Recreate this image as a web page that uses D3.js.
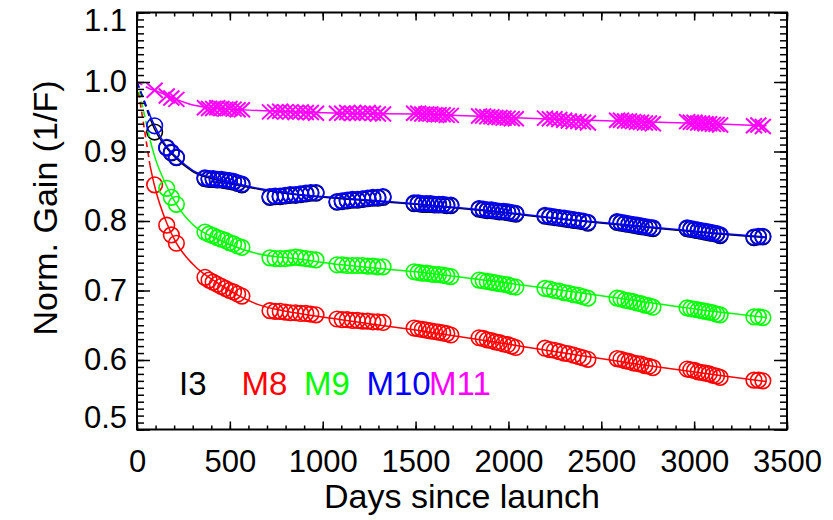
<!DOCTYPE html>
<html lang="en">
<head>
<meta charset="UTF-8">
<title>Normalized gain vs days since launch</title>
<script src="https://d3js.org/d3.v7.min.js"></script>
<style>
    body { margin: 0; background: #fff; }
    svg text { font-family: "Liberation Sans", Arial, sans-serif; }
</style>
</head>
<body>
<svg width="833" height="520"></svg>
<script>

// observation days (shared by all bands)
const days = [95, 160, 185, 212,
    366, 388, 410, 432, 454, 476, 498, 520, 542, 565,
    716, 744, 771, 799, 826, 854, 881, 909, 936, 964,
    1077, 1105, 1132, 1160, 1187, 1215, 1242, 1270, 1297, 1325,
    1492, 1514, 1536, 1558, 1580, 1602, 1624, 1646, 1668, 1690,
    1842, 1864, 1886, 1908, 1930, 1952, 1974, 1996, 2018, 2040,
    2197, 2223, 2248, 2274, 2300, 2325, 2351, 2377, 2402, 2428,
    2585, 2606, 2628, 2649, 2671, 2692, 2714, 2735, 2757, 2778,
    2962, 2982, 3002, 3022, 3042, 3061, 3081, 3101, 3121, 3140,
    3322, 3346, 3370];

const m8 = [0.852, 0.794, 0.780, 0.768,
    0.719, 0.715, 0.712, 0.709, 0.706, 0.703, 0.700, 0.698, 0.695, 0.692,
    0.671, 0.670, 0.670, 0.669, 0.668, 0.668, 0.667, 0.667, 0.666, 0.665,
    0.659, 0.658, 0.658, 0.657, 0.657, 0.656, 0.656, 0.655, 0.655, 0.654,
    0.646, 0.645, 0.644, 0.643, 0.642, 0.641, 0.640, 0.639, 0.638, 0.636,
    0.632, 0.631, 0.629, 0.628, 0.626, 0.625, 0.623, 0.622, 0.620, 0.618,
    0.617, 0.615, 0.614, 0.612, 0.610, 0.609, 0.607, 0.605, 0.603, 0.601,
    0.602, 0.601, 0.599, 0.598, 0.596, 0.595, 0.594, 0.592, 0.591, 0.589,
    0.587, 0.586, 0.585, 0.583, 0.582, 0.581, 0.580, 0.578, 0.577, 0.575,
    0.571, 0.571, 0.570];

const m9 = [null, 0.847, 0.834, 0.824,
    0.784, 0.781, 0.779, 0.776, 0.774, 0.772, 0.769, 0.767, 0.764, 0.762,
    0.747, 0.746, 0.746, 0.746, 0.747, 0.748, 0.747, 0.746, 0.745, 0.744,
    0.737, 0.737, 0.736, 0.736, 0.736, 0.736, 0.735, 0.735, 0.734, 0.734,
    0.727, 0.726, 0.725, 0.725, 0.724, 0.723, 0.723, 0.722, 0.721, 0.720,
    0.715, 0.714, 0.713, 0.712, 0.711, 0.710, 0.709, 0.708, 0.706, 0.705,
    0.703, 0.702, 0.700, 0.699, 0.697, 0.696, 0.694, 0.693, 0.691, 0.689,
    0.689, 0.688, 0.686, 0.685, 0.684, 0.682, 0.681, 0.679, 0.678, 0.676,
    0.675, 0.674, 0.673, 0.672, 0.671, 0.670, 0.669, 0.668, 0.666, 0.665,
    0.662, 0.662, 0.661];

const m10 = [0.937, 0.906, 0.899, 0.892,
    0.862, 0.861, 0.861, 0.860, 0.860, 0.859, 0.858, 0.857, 0.855, 0.853,
    0.835, 0.836, 0.836, 0.837, 0.838, 0.838, 0.839, 0.840, 0.841, 0.841,
    0.828, 0.829, 0.830, 0.831, 0.831, 0.832, 0.833, 0.834, 0.834, 0.835,
    0.826, 0.826, 0.825, 0.825, 0.825, 0.824, 0.824, 0.824, 0.823, 0.823,
    0.818, 0.817, 0.816, 0.816, 0.815, 0.814, 0.814, 0.813, 0.812, 0.811,
    0.808, 0.807, 0.806, 0.805, 0.804, 0.803, 0.802, 0.801, 0.800, 0.798,
    0.799, 0.798, 0.797, 0.796, 0.795, 0.794, 0.793, 0.792, 0.791, 0.790,
    0.790, 0.789, 0.788, 0.787, 0.786, 0.785, 0.784, 0.783, 0.782, 0.780,
    0.777, 0.778, 0.778];

const i3 = [0.928, 0.905, 0.898, 0.891,
    0.861, 0.860, 0.860, 0.859, 0.859, 0.858, 0.857, 0.856, 0.854, 0.852,
    0.834, 0.835, 0.835, 0.836, 0.837, 0.837, 0.838, 0.839, 0.840, 0.840,
    0.827, 0.828, 0.829, 0.830, 0.830, 0.831, 0.832, 0.833, 0.833, 0.834,
    0.825, 0.825, 0.824, 0.824, 0.824, 0.823, 0.823, 0.823, 0.822, 0.822,
    0.817, 0.816, 0.815, 0.815, 0.814, 0.813, 0.813, 0.812, 0.811, 0.810,
    0.807, 0.806, 0.805, 0.804, 0.803, 0.802, 0.801, 0.800, 0.799, 0.797,
    0.798, 0.797, 0.796, 0.795, 0.794, 0.793, 0.792, 0.791, 0.790, 0.789,
    0.789, 0.788, 0.787, 0.786, 0.785, 0.784, 0.783, 0.782, 0.781, 0.779,
    0.776, 0.777, 0.777];

const m11 = [0.988, 0.980, 0.977, 0.975,
    0.963, 0.962, 0.962, 0.963, 0.962, 0.961, 0.962, 0.961, 0.960, 0.960,
    0.957, 0.957, 0.958, 0.957, 0.957, 0.956, 0.957, 0.956, 0.956, 0.955,
    0.955, 0.955, 0.956, 0.955, 0.955, 0.955, 0.956, 0.955, 0.954, 0.954,
    0.955, 0.955, 0.954, 0.954, 0.954, 0.953, 0.953, 0.953, 0.952, 0.952,
    0.951, 0.951, 0.950, 0.950, 0.949, 0.949, 0.948, 0.948, 0.947, 0.947,
    0.948, 0.947, 0.947, 0.946, 0.945, 0.944, 0.943, 0.943, 0.942, 0.941,
    0.945, 0.945, 0.944, 0.944, 0.943, 0.942, 0.942, 0.941, 0.941, 0.940,
    0.943, 0.942, 0.942, 0.941, 0.941, 0.940, 0.940, 0.939, 0.939, 0.938,
    0.937, 0.938, 0.936];

// fitted degradation curves, read at these days
const fitDays = [70, 95, 160, 212, 300, 450, 650, 850, 1100, 1500, 1900, 2300, 2700, 3100, 3390];
const fitM8  = [0.880, 0.850, 0.797, 0.768, 0.738, 0.708, 0.680, 0.668, 0.658, 0.643, 0.627, 0.610, 0.594, 0.579, 0.569];
const fitM9  = [0.917, 0.893, 0.850, 0.824, 0.795, 0.772, 0.753, 0.746, 0.737, 0.727, 0.714, 0.700, 0.685, 0.670, 0.661];
const fitM10 = [0.952, 0.937, 0.907, 0.892, 0.873, 0.860, 0.847, 0.839, 0.833, 0.825, 0.815, 0.803, 0.793, 0.783, 0.777];
const fitI3  = [0.948, 0.932, 0.905, 0.890, 0.871, 0.858, 0.846, 0.838, 0.832, 0.824, 0.814, 0.802, 0.792, 0.782, 0.776];
const fitM11 = [0.990, 0.988, 0.981, 0.975, 0.967, 0.962, 0.959, 0.957, 0.955, 0.954, 0.950, 0.946, 0.943, 0.940, 0.937];

const bandNames = ["I3", "M8", "M9", "M10", "M11"];
const bandColors = ["#000000", "#ff0000", "#00ff00", "#0000ff", "#ff00ff"];

const xTicks = [0, 500, 1000, 1500, 2000, 2500, 3000, 3500];
const yTicks = [0.5, 0.6, 0.7, 0.8, 0.9, 1.0, 1.1];

const svg = d3.select("svg");
const pLeft = 137, pRight = 787, pTop = 12.5, pBottom = 429.5;

const x = d3.scaleLinear().domain([0, 3500]).range([pLeft, pRight]);
const y = d3.scaleLinear().domain([0.5, 1.1]).range([pBottom, pTop]);

const series = [
    {name: "I3",  vals: i3,  fit: fitI3,  marker: "circle"},
    {name: "M8",  vals: m8,  fit: fitM8,  marker: "circle"},
    {name: "M9",  vals: m9,  fit: fitM9,  marker: "circle"},
    {name: "M10", vals: m10, fit: fitM10, marker: "circle"},
    {name: "M11", vals: m11, fit: fitM11, marker: "cross"}
];

const line = d3.line()
    .x(d => x(d[0]))
    .y(d => y(d[1]))
    .curve(d3.curveMonotoneX);

const plot = svg.append("g");

series.forEach(s => {
    const col = bandColors[bandNames.indexOf(s.name)];
    const g = plot.append("g");

    // dashed start from launch
    g.append("path")
        .attr("d", d3.line().x(d => x(d[0])).y(d => y(d[1]))([[0, 1.0], [fitDays[0], s.fit[0]]]))
        .attr("fill", "none")
        .attr("stroke", col)
        .attr("stroke-width", 1.6)
        .attr("stroke-dasharray", "6,4");

    g.append("path")
        .attr("d", line(fitDays.map((d, i) => [d, s.fit[i]])))
        .attr("fill", "none")
        .attr("stroke", col)
        .attr("stroke-width", 1.5);

    const pts = days.map((d, i) => [d, s.vals[i]]).filter(p => p[1] != null);

    if (s.marker === "circle") {
        g.selectAll("circle")
            .data(pts)
            .join("circle")
            .attr("cx", d => x(d[0]))
            .attr("cy", d => y(d[1]))
            .attr("r", 7.8)
            .attr("fill", "none")
            .attr("stroke", col)
            .attr("stroke-width", 1.6);
    } else {
        g.selectAll("path.mk")
            .data(pts)
            .join("path")
            .attr("class", "mk")
            .attr("d", d => {
                const cx = x(d[0]), cy = y(d[1]);
                return `M${cx - 8},${cy - 7.5}L${cx + 8},${cy + 7.5}M${cx - 8},${cy + 7.5}L${cx + 8},${cy - 7.5}`;
            })
            .attr("stroke", col)
            .attr("stroke-width", 2);
    }
});

// axes: ticks on all four sides, pointing inward
const xMinor = d3.range(0, 3501, 100);
const yMinor = d3.range(50, 111).map(v => v / 100);

function styleAxis(g) {
    g.select(".domain").remove();
    g.selectAll("line").attr("stroke", "#000").attr("stroke-width", 1.5);
    g.selectAll("text").attr("font-size", 31).attr("font-family", "Liberation Sans, Arial, sans-serif");
}

svg.append("g").attr("transform", `translate(0,${pBottom})`)
    .call(d3.axisBottom(x).tickValues(xMinor).tickSize(-4).tickFormat(""))
    .call(styleAxis);
svg.append("g").attr("transform", `translate(0,${pBottom})`)
    .call(d3.axisBottom(x).tickValues(xTicks).tickSizeInner(-8).tickSizeOuter(0).tickPadding(20).tickFormat(d3.format("d")))
    .call(styleAxis);
svg.append("g").attr("transform", `translate(0,${pTop})`)
    .call(d3.axisTop(x).tickValues(xMinor).tickSize(-4).tickFormat(""))
    .call(styleAxis);
svg.append("g").attr("transform", `translate(0,${pTop})`)
    .call(d3.axisTop(x).tickValues(xTicks).tickSize(-8).tickFormat(""))
    .call(styleAxis);

svg.append("g").attr("transform", `translate(${pLeft},0)`)
    .call(d3.axisLeft(y).tickValues(yMinor).tickSize(-7).tickFormat(""))
    .call(styleAxis);
const yAxisG = svg.append("g").attr("transform", `translate(${pLeft},0)`)
    .call(d3.axisLeft(y).tickValues(yTicks).tickSizeInner(-13).tickSizeOuter(0).tickPadding(10).tickFormat(d3.format(".1f")))
    .call(styleAxis);
// end labels are pulled inside the page, as in the original
yAxisG.selectAll(".tick text")
    .attr("y", d => d === 1.1 ? 8 : (d === 0.5 ? -12 : 0));

svg.append("g").attr("transform", `translate(${pRight},0)`)
    .call(d3.axisRight(y).tickValues(yMinor).tickSize(-7).tickFormat(""))
    .call(styleAxis);
svg.append("g").attr("transform", `translate(${pRight},0)`)
    .call(d3.axisRight(y).tickValues(yTicks).tickSize(-13).tickFormat(""))
    .call(styleAxis);

// frame
svg.append("rect")
    .attr("x", pLeft).attr("y", pTop)
    .attr("width", pRight - pLeft).attr("height", pBottom - pTop)
    .attr("fill", "none").attr("stroke", "#000").attr("stroke-width", 2);

// axis titles
svg.append("text")
    .attr("x", (pLeft + pRight) / 2).attr("y", 508)
    .attr("text-anchor", "middle")
    .attr("font-size", 34)
    .text("Days since launch");

svg.append("text")
    .attr("transform", "translate(57,208) rotate(-90)")
    .attr("text-anchor", "middle")
    .attr("font-size", 34)
    .text("Norm. Gain (1/F)");

// band labels
svg.append("g").selectAll("text")
    .data(bandNames)
    .join("text")
    .attr("x", (d, i) => 179 + i * 62.5)
    .attr("y", 395)
    .attr("font-size", 33)
    .style("fill", (d, i) => bandColors[i])
    .text(d => d);

</script>
</body>
</html>
